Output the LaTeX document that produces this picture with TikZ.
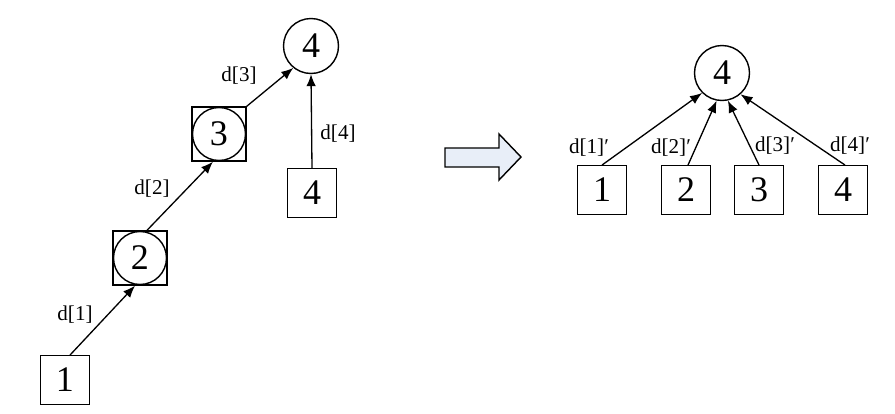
\documentclass[tikz,border=0pt]{standalone}
\usepackage{fontspec}
\setmainfont{Liberation Serif}
\usetikzlibrary{arrows.meta}
\definecolor{arrowfill}{HTML}{E8EEF8}

\begin{document}
\begin{tikzpicture}[
  x=0.02cm, y=-0.02cm,
  num/.style={font=\fontsize{20.5}{22}\selectfont},
  box/.style={draw, line width=0.8pt, minimum size=0.97cm, inner sep=0pt, num},
  frame/.style={draw, line width=0.8pt, minimum size=1.08cm, inner sep=0pt},
  ring/.style={draw, circle, line width=0.8pt, minimum size=1.06cm, inner sep=0pt, num},
  lbl/.style={font=\fontsize{12}{14}\selectfont, inner sep=0pt},
  arrow/.style={-{Latex[length=2.4mm, width=1.9mm]}, line width=0.75pt},
  bigarrow/.style={draw, line width=0.8pt, fill=arrowfill}
]
\useasboundingbox (0,0) rectangle (895,413);

% left: chained sums
\node[box] (b1) at (65,380) {1};
\node[frame] (s2) at (140,258) {};
\node[ring] (c2) at (140,258) {2};
\node[frame] (s3) at (219,134) {};
\node[ring] (c3) at (219,134) {3};
\node[ring, minimum size=1.1cm] (top) at (311,46) {4};
\node[box] (b4) at (312,193) {4};

\draw[arrow] ([xshift=0.1cm]b1.north) -- ([xshift=-0.1cm]s2.south);
\draw[arrow] ([xshift=0.14cm]s2.north) -- ([xshift=-0.12cm]s3.south);
\draw[arrow] (s3.north east) -- (top.231);
\draw[arrow] (b4.north) -- (top.south);

\node[lbl] (l1) at (75,315) {d[1]};
\node[lbl] (l2) at (152,189) {d[2]};
\node[lbl] (l3) at (239,76) {d[3]};
\node[lbl] (l4) at (338,134) {d[4]};

% transform arrow
\draw[bigarrow] (445,148) -- (499,148) -- (499,134) -- (521,157)
  -- (499,180) -- (499,167) -- (445,167) -- cycle;

% right: direct sums
\node[ring, minimum size=1.1cm] (root) at (722,73) {4};
\node[box] (r1) at (602,190) {1};
\node[box] (r2) at (686,190) {2};
\node[box] (r3) at (759,190) {3};
\node[box] (r4) at (843,190) {4};

\draw[arrow] (r1.north) -- (root.225);
\draw[arrow] ([xshift=0.04cm]r2.north) -- (root.259);
\draw[arrow] (r3.north) -- (root.282);
\draw[arrow] ([xshift=0.04cm]r4.north) -- (root.311);

\node[lbl] (m1) at (589,148) {d[1]′};
\node[lbl] (m2) at (671,148) {d[2]′};
\node[lbl] (m3) at (775,146) {d[3]′};
\node[lbl] (m4) at (850,146) {d[4]′};

\end{tikzpicture}
\end{document}
